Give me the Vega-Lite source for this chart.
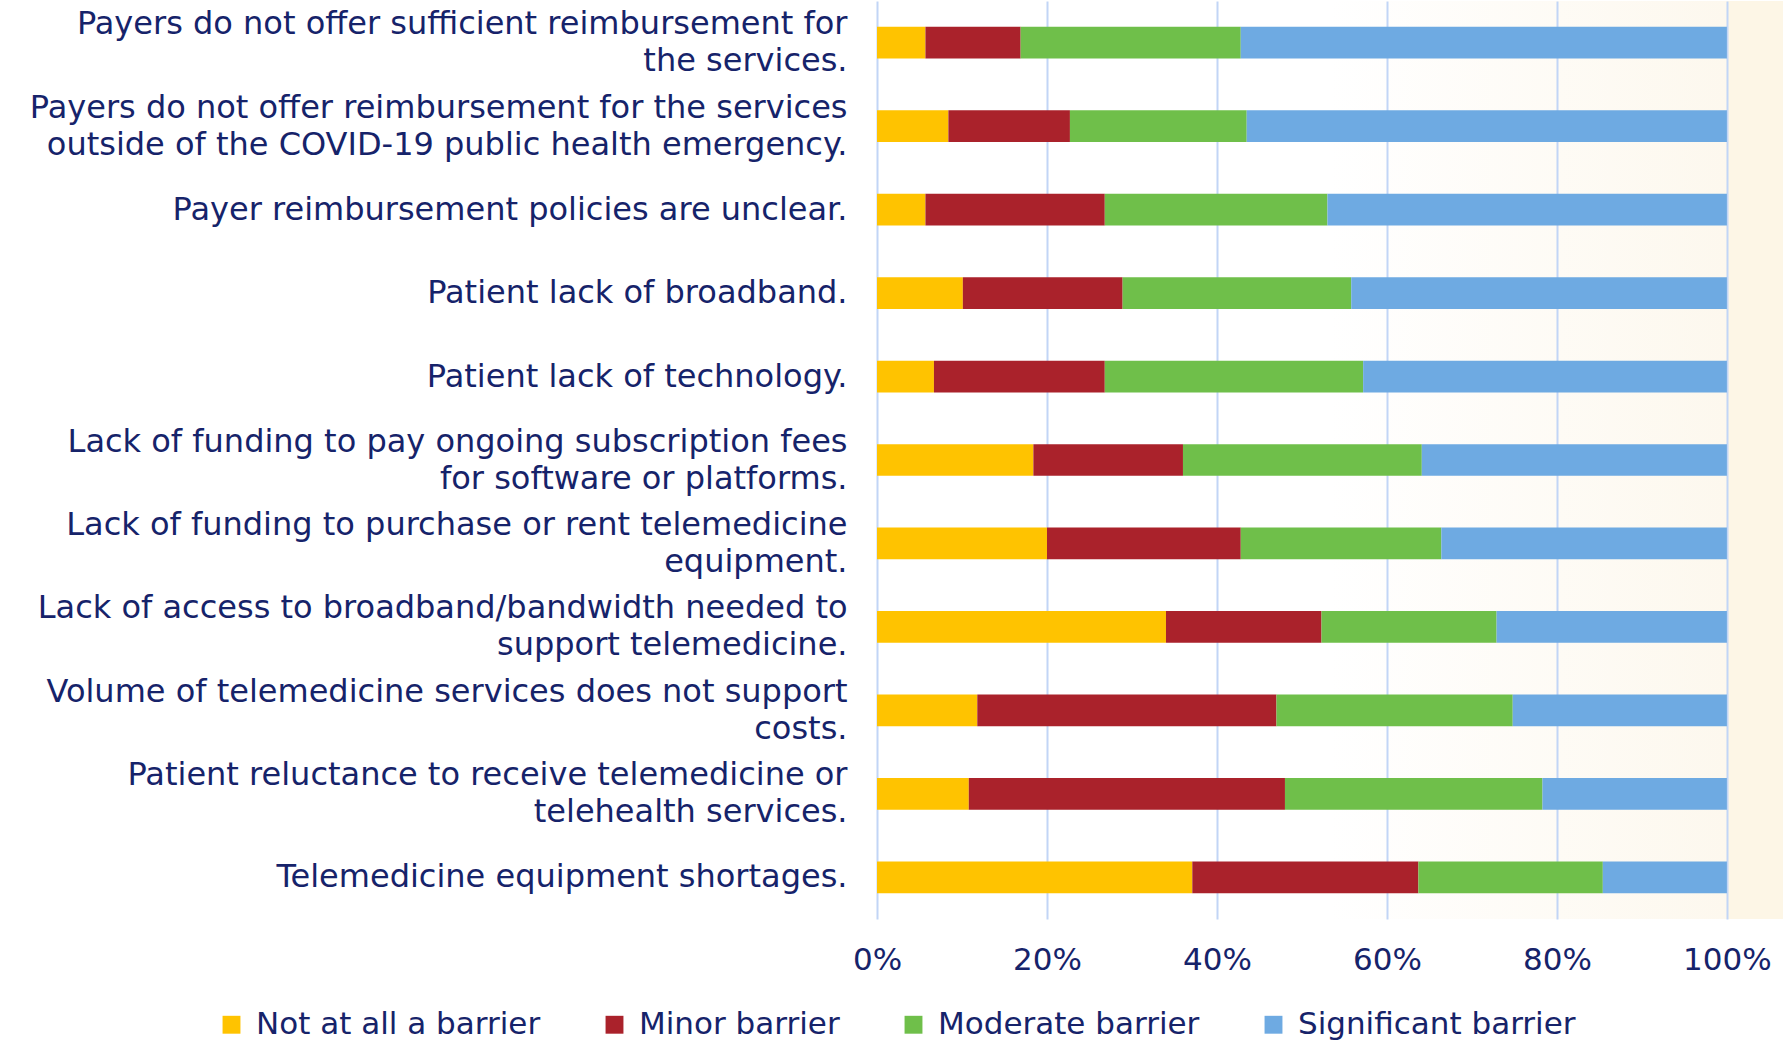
{
  "$schema": "https://vega.github.io/schema/vega-lite/v6.json",
  "width": 906,
  "height": 918,
  "autosize": {"type": "none"},
  "padding": {"left": 877, "top": 1, "right": 0, "bottom": 122},
  "background": "#ffffff",
  "config": {
    "view": {"stroke": null, "fill": {"gradient": "linear", "x1": 0, "y1": 0, "x2": 1, "y2": 0, "stops": [{"offset": 0, "color": "#ffffff"}, {"offset": 0.5, "color": "#ffffff"}, {"offset": 0.937, "color": "#fdf8ee"}, {"offset": 0.94, "color": "#fdf6e6"}, {"offset": 1, "color": "#fdf6e6"}]}},
    "font": "DejaVu Sans",
    "axis": {"labelColor": "#16236a", "labelFont": "DejaVu Sans", "domain": false, "ticks": false, "title": null}
  },
  "data": {"values": [
    {"q": "Payers do not offer sufficient reimbursement for|the services.", "b": "Not at all a barrier", "k": 1, "v": 5.7},
    {"q": "Payers do not offer sufficient reimbursement for|the services.", "b": "Minor barrier", "k": 2, "v": 11.2},
    {"q": "Payers do not offer sufficient reimbursement for|the services.", "b": "Moderate barrier", "k": 3, "v": 25.9},
    {"q": "Payers do not offer sufficient reimbursement for|the services.", "b": "Significant barrier", "k": 4, "v": 57.2},
    {"q": "Payers do not offer reimbursement for the services|outside of the COVID-19 public health emergency.", "b": "Not at all a barrier", "k": 1, "v": 8.4},
    {"q": "Payers do not offer reimbursement for the services|outside of the COVID-19 public health emergency.", "b": "Minor barrier", "k": 2, "v": 14.3},
    {"q": "Payers do not offer reimbursement for the services|outside of the COVID-19 public health emergency.", "b": "Moderate barrier", "k": 3, "v": 20.8},
    {"q": "Payers do not offer reimbursement for the services|outside of the COVID-19 public health emergency.", "b": "Significant barrier", "k": 4, "v": 56.5},
    {"q": "Payer reimbursement policies are unclear.\u00a0", "b": "Not at all a barrier", "k": 1, "v": 5.7},
    {"q": "Payer reimbursement policies are unclear.\u00a0", "b": "Minor barrier", "k": 2, "v": 21.1},
    {"q": "Payer reimbursement policies are unclear.\u00a0", "b": "Moderate barrier", "k": 3, "v": 26.2},
    {"q": "Payer reimbursement policies are unclear.\u00a0", "b": "Significant barrier", "k": 4, "v": 47.0},
    {"q": "Patient lack of broadband.", "b": "Not at all a barrier", "k": 1, "v": 10.1},
    {"q": "Patient lack of broadband.", "b": "Minor barrier", "k": 2, "v": 18.8},
    {"q": "Patient lack of broadband.", "b": "Moderate barrier", "k": 3, "v": 26.9},
    {"q": "Patient lack of broadband.", "b": "Significant barrier", "k": 4, "v": 44.2},
    {"q": "Patient lack of technology.", "b": "Not at all a barrier", "k": 1, "v": 6.7},
    {"q": "Patient lack of technology.", "b": "Minor barrier", "k": 2, "v": 20.1},
    {"q": "Patient lack of technology.", "b": "Moderate barrier", "k": 3, "v": 30.4},
    {"q": "Patient lack of technology.", "b": "Significant barrier", "k": 4, "v": 42.8},
    {"q": "Lack of funding to pay ongoing subscription fees\u00a0|for software or platforms.\u00a0", "b": "Not at all a barrier", "k": 1, "v": 18.4},
    {"q": "Lack of funding to pay ongoing subscription fees\u00a0|for software or platforms.\u00a0", "b": "Minor barrier", "k": 2, "v": 17.6},
    {"q": "Lack of funding to pay ongoing subscription fees\u00a0|for software or platforms.\u00a0", "b": "Moderate barrier", "k": 3, "v": 28.1},
    {"q": "Lack of funding to pay ongoing subscription fees\u00a0|for software or platforms.\u00a0", "b": "Significant barrier", "k": 4, "v": 35.9},
    {"q": "Lack of funding to purchase or rent telemedicine\u00a0|equipment.\u00a0", "b": "Not at all a barrier", "k": 1, "v": 20.0},
    {"q": "Lack of funding to purchase or rent telemedicine\u00a0|equipment.\u00a0", "b": "Minor barrier", "k": 2, "v": 22.8},
    {"q": "Lack of funding to purchase or rent telemedicine\u00a0|equipment.\u00a0", "b": "Moderate barrier", "k": 3, "v": 23.6},
    {"q": "Lack of funding to purchase or rent telemedicine\u00a0|equipment.\u00a0", "b": "Significant barrier", "k": 4, "v": 33.6},
    {"q": "Lack of access to broadband/bandwidth needed to\u00a0|support telemedicine.\u00a0", "b": "Not at all a barrier", "k": 1, "v": 34.0},
    {"q": "Lack of access to broadband/bandwidth needed to\u00a0|support telemedicine.\u00a0", "b": "Minor barrier", "k": 2, "v": 18.3},
    {"q": "Lack of access to broadband/bandwidth needed to\u00a0|support telemedicine.\u00a0", "b": "Moderate barrier", "k": 3, "v": 20.6},
    {"q": "Lack of access to broadband/bandwidth needed to\u00a0|support telemedicine.\u00a0", "b": "Significant barrier", "k": 4, "v": 27.1},
    {"q": "Volume of telemedicine services does not support\u00a0|costs.\u00a0", "b": "Not at all a barrier", "k": 1, "v": 11.8},
    {"q": "Volume of telemedicine services does not support\u00a0|costs.\u00a0", "b": "Minor barrier", "k": 2, "v": 35.2},
    {"q": "Volume of telemedicine services does not support\u00a0|costs.\u00a0", "b": "Moderate barrier", "k": 3, "v": 27.8},
    {"q": "Volume of telemedicine services does not support\u00a0|costs.\u00a0", "b": "Significant barrier", "k": 4, "v": 25.2},
    {"q": "Patient reluctance to receive telemedicine or|telehealth services.", "b": "Not at all a barrier", "k": 1, "v": 10.8},
    {"q": "Patient reluctance to receive telemedicine or|telehealth services.", "b": "Minor barrier", "k": 2, "v": 37.2},
    {"q": "Patient reluctance to receive telemedicine or|telehealth services.", "b": "Moderate barrier", "k": 3, "v": 30.3},
    {"q": "Patient reluctance to receive telemedicine or|telehealth services.", "b": "Significant barrier", "k": 4, "v": 21.7},
    {"q": "Telemedicine equipment shortages.\u00a0", "b": "Not at all a barrier", "k": 1, "v": 37.1},
    {"q": "Telemedicine equipment shortages.\u00a0", "b": "Minor barrier", "k": 2, "v": 26.6},
    {"q": "Telemedicine equipment shortages.\u00a0", "b": "Moderate barrier", "k": 3, "v": 21.7},
    {"q": "Telemedicine equipment shortages.\u00a0", "b": "Significant barrier", "k": 4, "v": 14.6}
  ]},
  "mark": {"type": "bar"},
  "encoding": {
    "y": {
      "field": "q", "type": "nominal", "sort": null,
      "scale": {"paddingInner": 0.62, "paddingOuter": 0.31},
      "axis": {"labelExpr": "split(datum.label, '|')", "labelAlign": "right", "labelBaseline": "middle", "labelFontSize": 32, "labelLineHeight": 37, "labelPadding": 30, "labelLimit": 0, "grid": false,
        "labelOffset": {"condition": {"test": "indexof(datum.label, '|') >= 0", "value": -18.5}, "value": 0}}
    },
    "x": {
      "field": "v", "type": "quantitative", "stack": "normalize",
      "scale": {"domain": [0, 1.066], "nice": false, "zero": true},
      "axis": {"values": [0, 0.2, 0.4, 0.6, 0.8, 1], "format": ".0%", "labelFontSize": 31, "labelPadding": 26, "grid": true, "gridColor": "#c2d5f6", "gridWidth": 2, "labelFlush": false}
    },
    "color": {
      "field": "b", "type": "nominal",
      "scale": {"domain": ["Not at all a barrier", "Minor barrier", "Moderate barrier", "Significant barrier"], "range": ["#ffc300", "#aa222b", "#6fbf4a", "#6eaae2"]},
      "legend": {"title": null, "orient": "none", "direction": "horizontal", "legendX": -661, "legendY": 1008, "symbolType": "square", "symbolSize": 320, "labelFontSize": 31, "labelColor": "#16236a", "labelFont": "DejaVu Sans", "columnPadding": 58, "labelOffset": 9, "labelLimit": 0}
    },
    "order": {"field": "k", "type": "quantitative"}
  }
}
